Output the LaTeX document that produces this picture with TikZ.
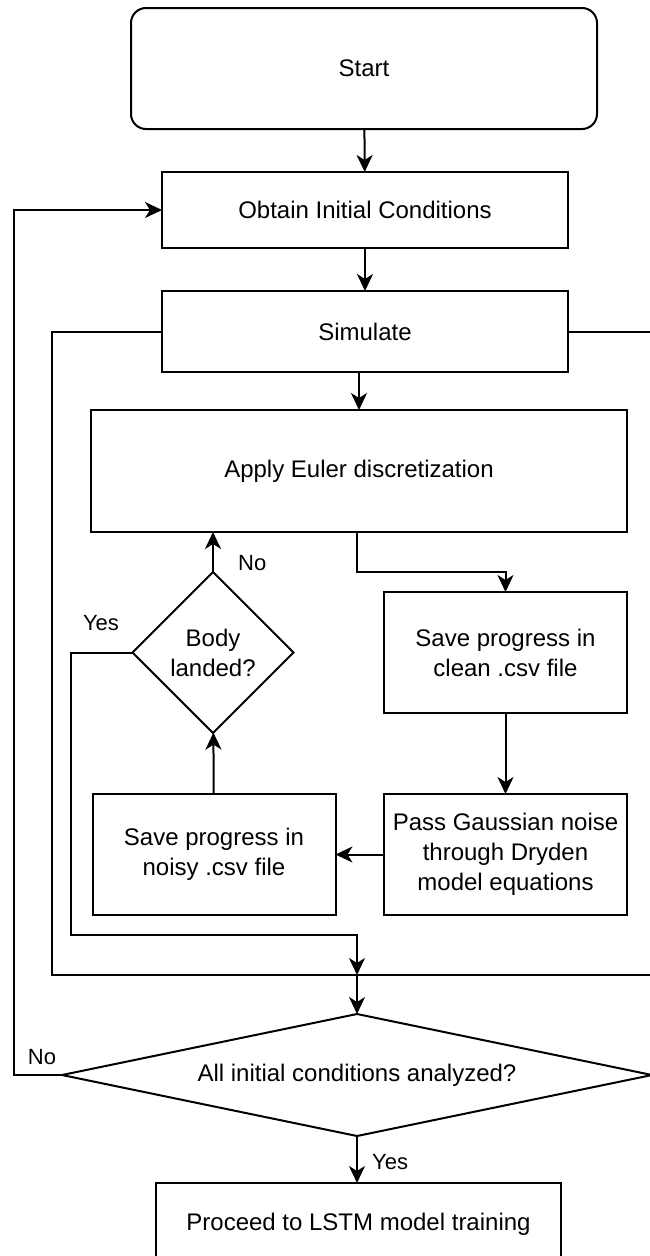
\documentclass[tikz,border=0pt]{standalone}
\usepackage{fontspec}
\setmainfont{Liberation Sans}
\usetikzlibrary{shapes.geometric,arrows.meta,calc}

\begin{document}
\begin{tikzpicture}[x=1pt,y=-1pt,
  every node/.style={font=\fontsize{24}{30}\selectfont},
  box/.style={draw, line width=2pt, inner sep=0pt, outer sep=0pt, align=center},
  decision/.style={draw, line width=2pt, diamond, inner sep=0pt, outer sep=0pt, align=center},
  wire/.style={line width=2pt},
  arr/.style={wire, -{Stealth[length=17pt,width=16pt,inset=5pt]}},
  tag/.style={font=\fontsize{22}{26}\selectfont, inner sep=0pt}]

\useasboundingbox (0,0) rectangle (650,1256);
\clip (0,0) rectangle (650,1256);

% process steps
\node[box, rounded corners=15pt, minimum width=466pt, minimum height=121pt] (start) at (364,68.5) {Start};
\node[box, minimum width=406pt, minimum height=76pt] (obtain) at (365,210) {Obtain Initial Conditions};
\node[box, minimum width=406pt, minimum height=81pt] (sim) at (365,331.5) {Simulate};
\node[box, minimum width=536pt, minimum height=122pt] (euler) at (359,471) {Apply Euler discretization};
\node[box, minimum width=243pt, minimum height=121pt] (clean) at (505.5,652.5) {Save progress in\\clean .csv file};
\node[box, minimum width=243pt, minimum height=121pt] (dryden) at (505.5,854.5) {Pass Gaussian noise\\through Dryden\\model equations};
\node[box, minimum width=243pt, minimum height=121pt] (noisy) at (214,854.5) {Save progress in\\noisy .csv file};
\node[decision, shape aspect=1, minimum width=161pt, minimum height=161pt] (landed) at (213,652.5) {Body\\landed?};
\node[decision, shape aspect=4.84, minimum width=590pt, minimum height=122pt] (done) at (357,1075) {All initial conditions analyzed?};
\node[box, minimum width=405pt, minimum height=82pt] (final) at (358.5,1224) {Proceed to LSTM model training};

% routing points
\coordinate (join) at (357,975);
\coordinate (loopL) at (52,975);
\coordinate (loopR) at (662,975);
\coordinate (yesL) at (71,935);
\coordinate (back) at (14,1075);

% main flow
\draw[arr] (start) -- (obtain);
\draw[arr] (obtain) -- (sim);
\draw[arr] (euler.north |- sim.south) -- (euler.north);
\draw[arr] (euler.south -| join) -- ++(0,40) -| (clean.north);
\draw[arr] (clean) -- (dryden);
\draw[arr] (dryden) -- (noisy);
\draw[arr] (noisy) -- (landed);
\draw[arr] (landed.north) -- (landed.north |- euler.south);
\node[tag, anchor=west] (lno) at (238,563) {No};

% landed: leave the loop
\draw[arr] (landed.west) -| (yesL) -| (join);
\node[tag] (lyes) at (101,623) {Yes};

% frame around the simulation
\draw[wire] (sim.west) -| (loopL) -- (loopR) |- (sim.east);

% final check
\draw[arr] (join) -- (done.north);
\draw[arr] (done.west) -- (back) |- (obtain.west);
\node[tag] (dno) at (42,1057) {No};
\draw[arr] (done.south) -- (final.north -| done.south);
\node[tag, anchor=west] (dyes) at (372,1162) {Yes};

\end{tikzpicture}
\end{document}
